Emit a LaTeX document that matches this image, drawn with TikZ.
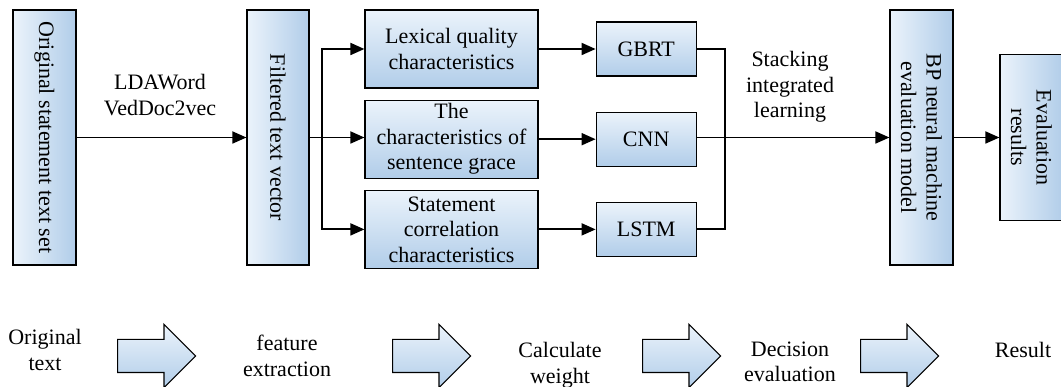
\documentclass[tikz,border=0pt]{standalone}
\usepackage{fontspec}
\setmainfont{Liberation Serif}
\usepackage{tikz}
\usetikzlibrary{positioning}
\usetikzlibrary{shapes.arrows}
\usetikzlibrary{arrows.meta}
\definecolor{shadetop}{HTML}{EBF3FB}
\definecolor{shadebot}{HTML}{B1CDE9}

\begin{document}
\begin{tikzpicture}[x=1pt, y=-1pt,
                    every node/.style={font=\fontsize{22}{25.5}\selectfont},
                    box/.style={rectangle, draw, line width=1.2pt, align=center, inner sep=1pt, top color=shadetop, bottom color=shadebot},
                    tall/.style={rectangle, draw, line width=1.2pt, align=center, inner sep=1pt, rotate=-90, left color=shadetop, right color=shadebot},
                    feat/.style={box, minimum width=173pt, minimum height=78pt},
                    clf/.style={box, minimum width=100pt, minimum height=54pt},
                    conn/.style={line width=1.8pt},
                    arr/.style={conn, -{Triangle[length=14pt, width=12pt]}},
                    step arrow/.style={single arrow, draw, line width=1.2pt, inner xsep=0pt, inner ysep=16pt, single arrow head extend=15pt, minimum height=78pt, anchor=west, top color=shadetop, bottom color=shadebot}]
\useasboundingbox (0,0) rectangle (1061,387);
% upper flow
\node (orig) [tall, minimum width=255pt, minimum height=63pt] at (44.5,137.5) {Original statement text set};
\node (filt) [tall, minimum width=255pt, minimum height=62pt] at (278,137.5) {Filtered text vector};
\node (lex) [feat] at (451.5,49) {Lexical quality\\characteristics};
\node (grace) [feat, below=11pt of lex] {The\\characteristics of\\sentence grace};
\node (corr) [feat, below=11pt of grace] {Statement\\correlation\\characteristics};
\node (gbrt) [clf, right=57pt of lex] {GBRT};
\node (cnn) [clf, right=57pt of grace] {CNN};
\node (lstm) [clf, right=57pt of corr] {LSTM};
\node (bp) [tall, minimum width=255pt, minimum height=63pt] at (921.5,137.5) {BP neural machine\\evaluation model};
\node (res) [tall, minimum width=166pt, minimum height=63pt] at (1031.5,137.5) {Evaluation\\results};
\node (w2v) [align=center] at (160,95) {LDAWord\\VedDoc2vec};
\node (stack) [align=center] at (790,87) {Stacking\\integrated\\learning};
\coordinate (split) at (322,137.5);
\coordinate (merge) at (725,137.5);
% rotated boxes: north is their right side, south their left side
\draw[arr] (orig.north) -- (filt.south);
\draw[arr] (filt.north) -- (filt.north -| grace.west);
\draw[arr] (split) |- (lex.west);
\draw[arr] (split) |- (corr.west);
\draw[arr] (lex) -- (gbrt);
\draw[arr] (grace) -- (cnn);
\draw[arr] (corr) -- (lstm);
\draw[conn] (gbrt.east) -| (merge);
\draw[conn] (lstm.east) -| (merge);
\draw[arr] (cnn.east |- merge) -- (bp.south);
\draw[arr] (bp.north) -- (res.south);
% lower steps
\node (s1) [align=center] at (45,350) {Original\\text};
\node (a1) [step arrow] at (117,356) {};
\node (s2) [align=center] at (287,356) {feature\\extraction};
\node (a2) [step arrow] at (392,356) {};
\node (s3) [align=center] at (560,365) {Calculate\\weight};
\node (a3) [step arrow] at (642,356) {};
\node (s4) [align=center] at (790,362) {Decision\\evaluation};
\node (a4) [step arrow] at (860,356) {};
\node (s5) [align=center] at (1023,350) {Result};
\end{tikzpicture}
\end{document}
